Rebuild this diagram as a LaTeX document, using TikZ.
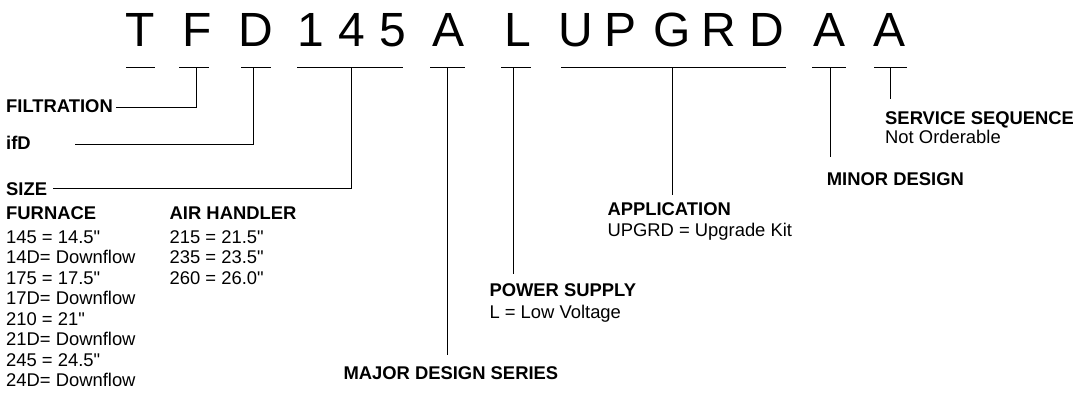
\documentclass[tikz,border=0pt]{standalone}
\usepackage{fontspec}
\setmainfont{Liberation Sans}[Ligatures=TeXOff]
\begin{document}
\begin{tikzpicture}[x=1pt,y=-1pt,
  big/.style={anchor=base,inner sep=0pt,font=\fontsize{48}{50}\selectfont},
  hd/.style={anchor=base west,inner sep=0pt,font=\fontsize{18.4}{20}\selectfont\bfseries},
  tx/.style={anchor=base west,inner sep=0pt,font=\fontsize{18.4}{20}\selectfont},
  ln/.style={line width=1pt,black}]
\useasboundingbox (0,0) rectangle (1073,399);
% code letters
\node[big] (cT) at (140.5,46.7) {T};
\node[big] (cF) at (197,46.7) {F};
\node[big] (cD) at (256,46.7) {D};
\node[big] (c1) at (311,46.7) {1};
\node[big] (c4) at (352,46.7) {4};
\node[big] (c5) at (392.5,46.7) {5};
\node[big] (cA) at (449,46.7) {A};
\node[big] (cL) at (518,46.7) {L};
\node[big] (cU) at (576,46.7) {U};
\node[big] (cP) at (620,46.7) {P};
\node[big] (cG) at (672,46.7) {G};
\node[big] (cR) at (719,46.7) {R};
\node[big] (cD2) at (767,46.7) {D};
\node[big] (cA2) at (829,46.7) {A};
\node[big] (cA3) at (889,46.7) {A};
% underline coordinates
\coordinate (tL) at (126,67); \coordinate (tR) at (155,67);
\coordinate (fL) at (179,67); \coordinate (fR) at (209,67); \coordinate (fM) at (196,67);
\coordinate (dL) at (241,67); \coordinate (dR) at (271,67); \coordinate (dM) at (253.7,67);
\coordinate (sL) at (297,67); \coordinate (sR) at (403,67); \coordinate (sM) at (351.7,67);
\coordinate (aL) at (430,67); \coordinate (aR) at (465,67); \coordinate (aM) at (447.7,67);
\coordinate (lL) at (501,67); \coordinate (lR) at (531,67); \coordinate (lM) at (513.3,67);
\coordinate (uL) at (561,67); \coordinate (uR) at (786,67); \coordinate (uM) at (672.7,67);
\coordinate (mL) at (812,67); \coordinate (mR) at (846,67); \coordinate (mM) at (830,67);
\coordinate (vL) at (874,67); \coordinate (vR) at (907,67); \coordinate (vM) at (890.7,67);
% label end points
\coordinate (eF) at (115.7,107.3);
\coordinate (eD) at (75,144);
\coordinate (eS) at (52.7,188.3);
\coordinate (eA) at (447.7,355);
\coordinate (eL) at (513.3,274);
\coordinate (eU) at (672.7,195);
\coordinate (eM) at (830,156.7);
\coordinate (eV) at (890.7,99.3);
% labels
\node[hd] (filt) at (6,112.3) {FILTRATION};
\node[hd] (ifd) at (6,149.5) {ifD};
\node[hd] (size) at (6,195) {SIZE};
\node[hd] (furn) at (6,219.3) {FURNACE};
\node[tx] (f1) at (6,243.3) {145 = 14.5"};
\node[tx] (f2) at (6,263.8) {14D= Downflow};
\node[tx] (f3) at (6,284.3) {175 = 17.5"};
\node[tx] (f4) at (6,304.8) {17D= Downflow};
\node[tx] (f5) at (6,325.3) {210 = 21"};
\node[tx] (f6) at (6,345.8) {21D= Downflow};
\node[tx] (f7) at (6,366.3) {245 = 24.5"};
\node[tx] (f8) at (6,386.8) {24D= Downflow};
\node[hd] (air) at (169.5,219.3) {AIR HANDLER};
\node[tx] (a1) at (169.5,243.3) {215 = 21.5"};
\node[tx] (a2) at (169.5,263.8) {235 = 23.5"};
\node[tx] (a3) at (169.5,284.3) {260 = 26.0"};
\node[hd] (major) at (343.3,379) {MAJOR DESIGN SERIES};
\node[hd] (power) at (489.3,296.7) {POWER SUPPLY};
\node[tx] (power2) at (489.3,318.3) {L = Low Voltage};
\node[hd] (appl) at (607.3,215) {APPLICATION};
\node[tx] (appl2) at (607.3,236.5) {UPGRD = Upgrade Kit};
\node[hd] (minor) at (826.7,185) {MINOR DESIGN};
\node[hd] (serv) at (885,124) {SERVICE SEQUENCE};
\node[tx] (serv2) at (885,143) {Not Orderable};
% lines
\draw[ln] (tL) -- (tR);
\draw[ln] (fL) -- (fR); \draw[ln] (fM) |- (eF);
\draw[ln] (dL) -- (dR); \draw[ln] (dM) |- (eD);
\draw[ln] (sL) -- (sR); \draw[ln] (sM) |- (eS);
\draw[ln] (aL) -- (aR); \draw[ln] (aM) -- (eA);
\draw[ln] (lL) -- (lR); \draw[ln] (lM) -- (eL);
\draw[ln] (uL) -- (uR); \draw[ln] (uM) -- (eU);
\draw[ln] (mL) -- (mR); \draw[ln] (mM) -- (eM);
\draw[ln] (vL) -- (vR); \draw[ln] (vM) -- (eV);
\end{tikzpicture}
\end{document}
